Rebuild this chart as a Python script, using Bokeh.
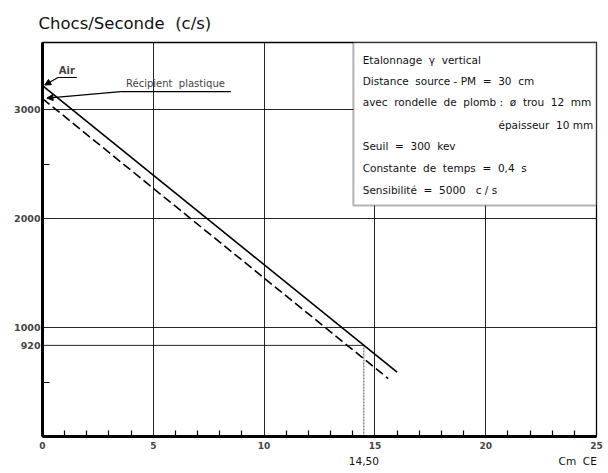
from bokeh.plotting import figure
from bokeh.models import FixedTicker, Label, BoxAnnotation, Arrow, NormalHead, LinearAxis
from bokeh.embed import file_html
from bokeh.resources import INLINE

# ---- data ----
x_start, x_end = 0, 25
y_start, y_end = 0, 3615
x_major = [0, 5, 10, 15, 20, 25]
x_minor = [1, 2, 3, 4, 6, 7, 8, 9, 11, 12, 13, 14, 16, 17, 18, 19, 21, 22, 23, 24]
y_minor = [500, 2500]
x_grid = [5, 10, 15, 20]
y_grid = [1000, 2000, 3000]

air_x = [0, 16.0]
air_y = [3220, 590]
plast_x = [0, 15.6]
plast_y = [3100, 532]

ref_x = 14.5
ref_label = "14,50"
# the "920" line as drawn on the original sheet (sits where the Air line meets x = 14,50)
ref_y_drawn = 836
ref_y_label = "920"
y_major = [ref_y_drawn, 1000, 2000, 3000]
y_major_labels = {ref_y_drawn: ref_y_label, 1000: "1000", 2000: "2000", 3000: "3000"}

NB = " \u00a0"
title_text = "Chocs/Seconde" + NB + "(c/s)"
xlabel_text = "Cm" + NB + "CE"
xlabel_pos = 24.15
air_text = "Air"
plast_text = "Récipient" + NB + "plastique"
box_lines = [
    "Etalonnage  γ  vertical",
    "Distance  source - PM  =  30  cm",
    "avec  rondelle  de  plomb :  ø  trou  12  mm",
    "épaisseur  10 mm",
    "Seuil  =  300  kev",
    "Constante  de  temps  =  0,4  s",
    "Sensibilité  =  5000   c / s",
]

FONT = "DejaVu Sans"

p = figure(width=608, height=473, x_range=(x_start, x_end), y_range=(y_start, y_end),
           output_backend="svg", toolbar_location=None,
           min_border_left=42, min_border_right=12, min_border_top=42, min_border_bottom=37)
p.background_fill_color = "white"
p.border_fill_color = "white"
p.outline_line_color = "black"
p.outline_line_width = 1.3

p.title.text = title_text
p.title.text_font = FONT
p.title.text_font_size = "16.5px"
p.title.text_font_style = "normal"
p.title.text_color = "#111111"
p.title.offset = -4
p.title.standoff = 16
p.title.vertical_align = "top"

# axes
xa = p.xaxis[0]
xa.ticker = FixedTicker(ticks=x_major, minor_ticks=x_minor)
xa.axis_line_width = 3
xa.axis_line_color = "black"
xa.major_tick_in = 0
xa.major_tick_out = 0
xa.minor_tick_in = 6
xa.minor_tick_out = 0
xa.minor_tick_line_color = "black"
xa.minor_tick_line_width = 1.2
xa.major_label_text_font = FONT
xa.major_label_text_font_size = "9px"
xa.major_label_text_font_style = "bold"
xa.major_label_standoff = 5

# second (label-only) axis: the 14,50 mark and the unit caption
xa2 = LinearAxis(ticker=FixedTicker(ticks=[ref_x, xlabel_pos], minor_ticks=[]),
                 major_label_overrides={ref_x: ref_label, xlabel_pos: xlabel_text})
xa2.axis_line_alpha = 0
xa2.major_tick_in = 0
xa2.major_tick_out = 0
xa2.minor_tick_in = 0
xa2.minor_tick_out = 0
xa2.major_label_standoff = 3
xa2.major_label_text_font = FONT
xa2.major_label_text_font_size = "10.5px"
xa2.major_label_text_font_style = "normal"
xa2.major_label_text_color = "#111111"
p.add_layout(xa2, "below")

ya = p.yaxis[0]
ya.ticker = FixedTicker(ticks=y_major, minor_ticks=y_minor)
ya.major_label_overrides = y_major_labels
ya.axis_line_width = 3
ya.axis_line_color = "black"
ya.major_tick_in = 0
ya.major_tick_out = 0
ya.minor_tick_in = 7
ya.minor_tick_out = 0
ya.minor_tick_line_color = "black"
ya.minor_tick_line_width = 1.2
ya.major_label_text_font = FONT
ya.major_label_text_font_size = "9.5px"
ya.major_label_text_font_style = "bold"
ya.major_label_standoff = 2

# grids
p.xgrid.ticker = FixedTicker(ticks=x_grid)
p.ygrid.ticker = FixedTicker(ticks=y_grid)
for g in (p.xgrid[0], p.ygrid[0]):
    g.grid_line_color = "black"
    g.grid_line_width = 1
    g.grid_line_alpha = 0.85

# reference lines (920 / 14,50)
p.line([x_start, ref_x], [ref_y_drawn, ref_y_drawn], line_color="black", line_width=1,
       line_alpha=0.85)
p.line([ref_x, ref_x], [y_start, ref_y_drawn], line_color="black", line_width=1,
       line_alpha=0.7, line_dash="2 1")

# data lines
p.line(air_x, air_y, line_color="black", line_width=1.6)
p.line(plast_x, plast_y, line_color="black", line_width=1.6, line_dash="9 4")

# annotation leaders
p.line([0.7, 1.55], [3294, 3294], line_color="black", line_width=1.2)
p.add_layout(Arrow(end=NormalHead(size=6, fill_color="black", line_color="black"),
                   x_start=0.7, y_start=3294, x_end=0.1, y_end=3225,
                   line_color="black", line_width=1.2))
p.add_layout(Label(x=1.1, y=3310, text=air_text, text_font=FONT, text_font_size="10px",
                   text_font_style="bold", text_align="center", text_baseline="bottom"))

p.line([3.54, 8.5], [3165, 3165], line_color="black", line_width=1.2)
p.add_layout(Arrow(end=NormalHead(size=6, fill_color="black", line_color="black"),
                   x_start=3.54, y_start=3165, x_end=0.2, y_end=3105,
                   line_color="black", line_width=1.2))
p.add_layout(Label(x=6.0, y=3185, text=plast_text, text_font=FONT, text_font_size="10px",
                   text_align="center", text_baseline="bottom"))

# info box
p.add_layout(BoxAnnotation(left=14.03, right=x_end, bottom=2120, top=y_end,
                           fill_color="white", fill_alpha=1.0,
                           line_color="black", line_width=2))
row_y = [3450, 3266, 3073, 2862, 2661, 2468, 2266]
for i, (txt, yy) in enumerate(zip(box_lines, row_y)):
    txt = txt.replace("  ", NB)
    if i == 3:
        lab = Label(x=24.85, y=yy, text=txt, text_align="right")
    else:
        lab = Label(x=14.45, y=yy, text=txt, text_align="left")
    lab.text_font = FONT
    lab.text_font_size = "10.5px"
    lab.text_baseline = "middle"
    lab.text_color = "#111111"
    p.add_layout(lab)

open("out.html", "w").write(file_html(p, INLINE))
